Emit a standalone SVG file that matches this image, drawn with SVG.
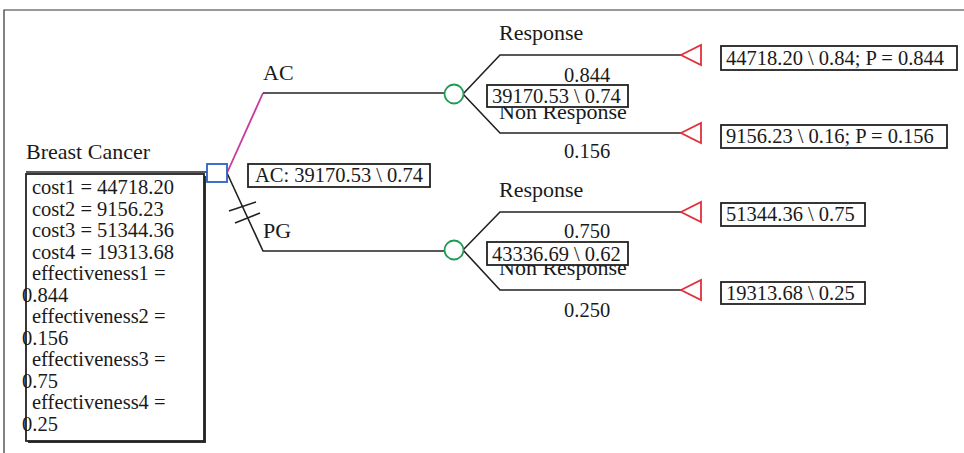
<svg xmlns="http://www.w3.org/2000/svg" width="964" height="453" viewBox="0 0 964 453">
<style>
text{font-family:"Liberation Serif","Times New Roman",serif;fill:#1a1a1a}
.v{font-size:20.5px}
.l{font-size:22px}
.line{stroke:#222;stroke-width:1.6;fill:none}
.box{fill:#fff;stroke:#222;stroke-width:1.8}
.tri{fill:#fff;stroke:#e0303c;stroke-width:1.8}
.chance{fill:#fff;stroke:#1f9a55;stroke-width:1.8}
</style>
<rect x="0" y="0" width="964" height="453" fill="#fff"/>
<path d="M4 453 V10 H964" fill="none" stroke="#333" stroke-width="1.2"/>
<g id="connectors">
<path d="M227 173 L263 93" stroke="#c8399e" stroke-width="1.8" fill="none"/>
<path class="line" d="M263 93 H445"/>
<path class="line" d="M227 173 L263 251 H445"/>
<path class="line" d="M229 211 L256 202 M235 223 L260 213"/>
<path class="line" d="M463 94 L500 55 H681 M463 94 L500 133 H681"/>
<path class="line" d="M463 250 L500 212 H681 M463 250 L500 290 H681"/>
</g>
<g id="root">
<text class="l" x="26" y="159">Breast Cancer</text>
<path class="line" d="M26 172 H207"/>
<rect x="28" y="176" width="178" height="267" fill="#333"/>
<rect class="box" x="26" y="174" width="178" height="267"/>
<g class="v">
<text x="32" y="194">cost1 = 44718.20</text>
<text x="32" y="215.5">cost2 = 9156.23</text>
<text x="32" y="237">cost3 = 51344.36</text>
<text x="32" y="258.5">cost4 = 19313.68</text>
<text x="32" y="280">effectiveness1 =</text>
<text x="22" y="301.5">0.844</text>
<text x="32" y="323">effectiveness2 =</text>
<text x="22" y="344.5">0.156</text>
<text x="32" y="366">effectiveness3 =</text>
<text x="22" y="387.5">0.75</text>
<text x="32" y="409">effectiveness4 =</text>
<text x="22" y="430.5">0.25</text>
</g>
<rect x="207" y="164" width="20" height="18" fill="#fff" stroke="#2b62c4" stroke-width="1.8"/>
<rect class="box" x="248" y="164" width="182" height="23"/>
<text class="v" x="255" y="182">AC: 39170.53 \ 0.74</text>
</g>
<g id="branch-AC">
<text class="l" x="263" y="80">AC</text>
</g>
<g id="branch-PG">
<text class="l" x="263" y="238">PG</text>
</g>
<g id="chance-AC">
<circle class="chance" cx="454" cy="94" r="9.5"/>
<text class="l" x="499" y="40">Response</text>
<text class="v" x="564" y="82">0.844</text>
<text class="l" x="499" y="119">Non Response</text>
<rect class="box" x="487" y="85" width="141" height="22"/>
<text class="v" x="492" y="103">39170.53 \ 0.74</text>
<text class="v" x="564" y="158">0.156</text>
</g>
<g id="chance-PG">
<circle class="chance" cx="454" cy="250" r="9.5"/>
<text class="l" x="499" y="197">Response</text>
<text class="v" x="564" y="238">0.750</text>
<text class="l" x="499" y="275">Non Response</text>
<rect class="box" x="487" y="242" width="141" height="23"/>
<text class="v" x="492" y="261">43336.69 \ 0.62</text>
<text class="v" x="564" y="317">0.250</text>
</g>
<g id="term1">
<polygon class="tri" points="681,55 701,45 701,65"/>
<rect class="box" x="721" y="46" width="236" height="24"/>
<text class="v" x="726" y="65">44718.20 \ 0.84; P = 0.844</text>
</g>
<g id="term2">
<polygon class="tri" points="681,133 701,123 701,143"/>
<rect class="box" x="721" y="125" width="226" height="23"/>
<text class="v" x="726" y="143">9156.23 \ 0.16; P = 0.156</text>
</g>
<g id="term3">
<polygon class="tri" points="681,212 701,202 701,222"/>
<rect class="box" x="721" y="203" width="144" height="23"/>
<text class="v" x="726" y="221">51344.36 \ 0.75</text>
</g>
<g id="term4">
<polygon class="tri" points="681,290 701,280 701,300"/>
<rect class="box" x="721" y="282" width="144" height="22"/>
<text class="v" x="726" y="300">19313.68 \ 0.25</text>
</g>
</svg>
